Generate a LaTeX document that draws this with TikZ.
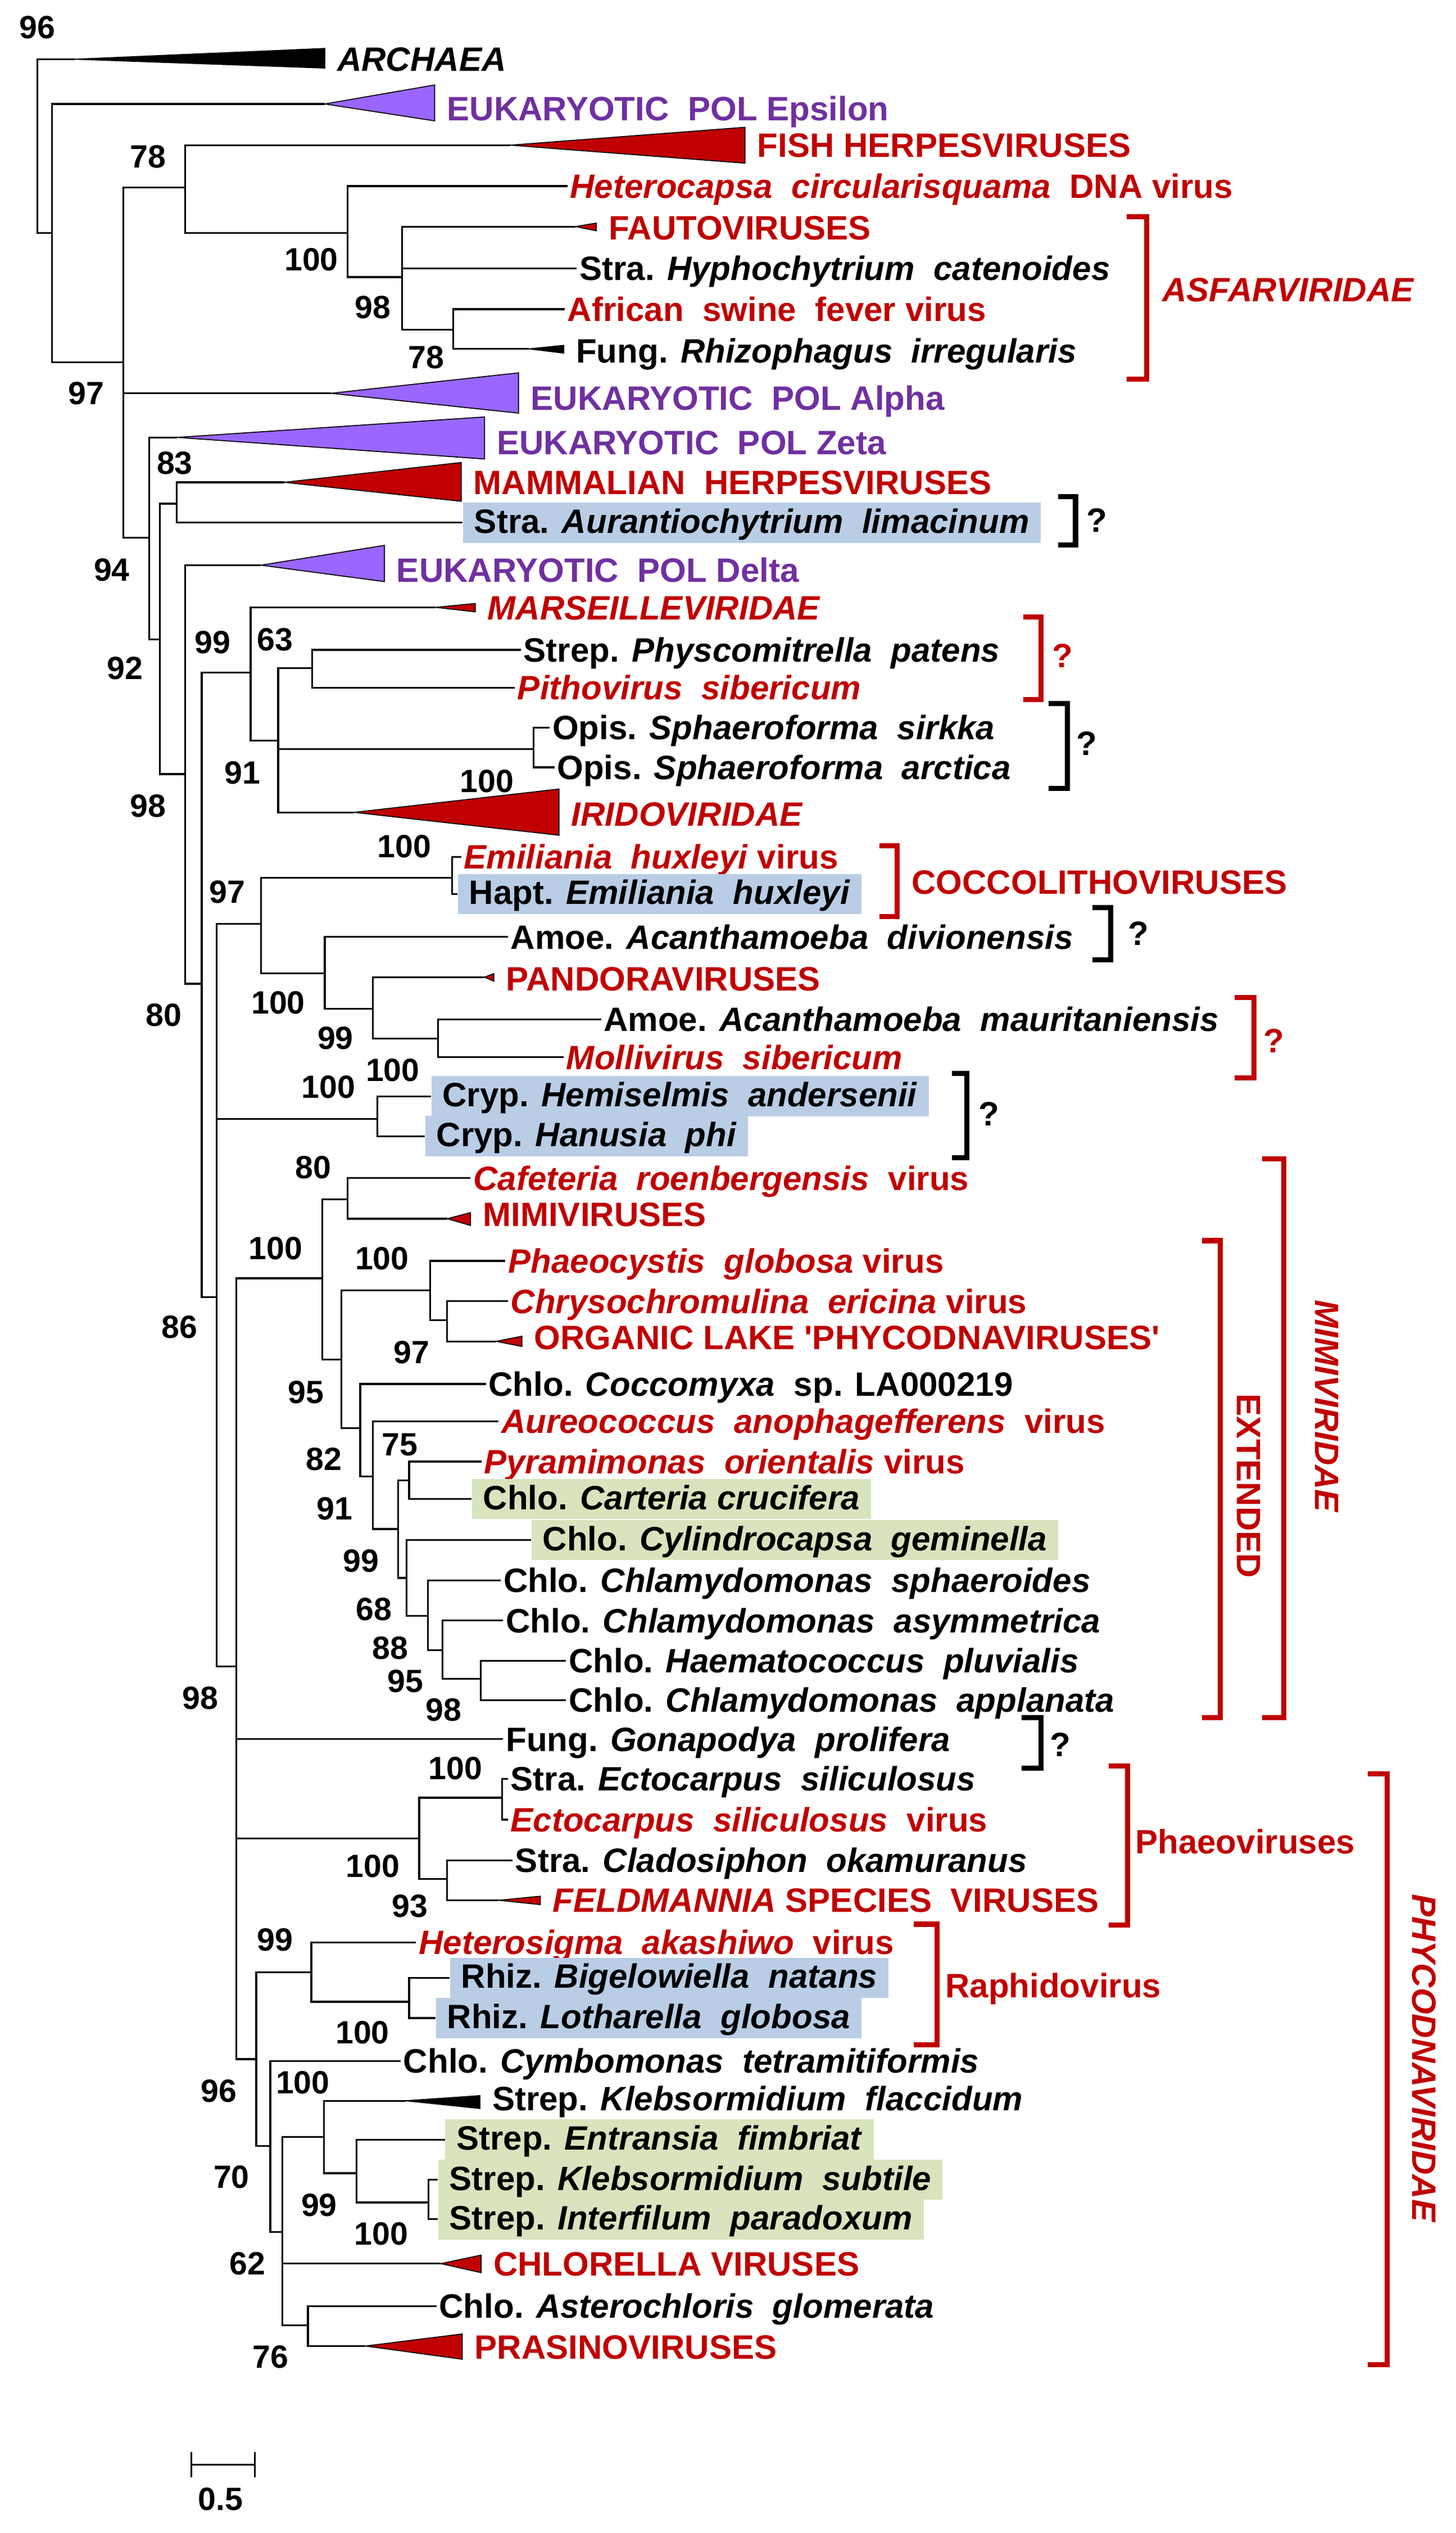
\documentclass[tikz,border=0pt]{standalone}
\usepackage{fontspec}
\setmainfont{Liberation Sans}
\usepackage{tikz}
\usetikzlibrary{positioning}
\definecolor{virred}{HTML}{C00000}
\definecolor{polpurple}{HTML}{7030A0}
\definecolor{polfill}{HTML}{9966FF}
\definecolor{hlblue}{HTML}{B9CDE5}
\definecolor{hlgreen}{HTML}{D7E4BD}
\newcommand{\labfont}{\fontsize{21}{24}\selectfont\bfseries}
\newcommand{\bsfont}{\fontsize{20}{24}\selectfont\bfseries}
\tikzset{
  tree/.style={line width=1.1pt},
  tip/.style={anchor=west, inner xsep=1.5pt, inner ysep=0pt, text height=15pt, text depth=0pt, font=\labfont},
  hlbox/.style={anchor=west, inner xsep=7pt, inner ysep=0pt, text height=19pt, text depth=6pt, font=\labfont},
  bluebox/.style={hlbox, fill=hlblue},
  greenbox/.style={hlbox, fill=hlgreen},
  vir/.style={text=virred},
  pol/.style={text=polpurple},
  clade/.style={draw=black, line width=0.6pt, line join=miter},
  cladeR/.style={clade, fill=virred},
  cladeP/.style={clade, fill=polfill},
  cladeK/.style={clade, fill=black},
  brk/.style={line width=3.2pt, line join=miter},
  brkR/.style={brk, draw=virred},
  cladelab/.style={inner sep=0pt, text height=15pt, text depth=0pt, font=\labfont},
  bs/.style={inner sep=0pt, text height=14.5pt, text depth=0pt, font=\bsfont}
}
\begin{document}
\begin{tikzpicture}[x=1pt,y=-1pt]
  \useasboundingbox (0,0) rectangle (905,1574);
  %internal nodes of the tree
  \coordinate (r0) at (23.2,90);
  \coordinate (n1) at (32.4,144.8);
  \coordinate (n2) at (76.7,225);
  \coordinate (n3) at (115.0,116.5);
  \coordinate (n4) at (92.7,334.2);
  \coordinate (n5) at (216.0,144.8);
  \coordinate (n6) at (249.9,172.2);
  \coordinate (n7) at (281.8,205.0);
  \coordinate (n8) at (99.3,397.2);
  \coordinate (n9) at (110.0,313);
  \coordinate (n10) at (115.0,481);
  \coordinate (n11) at (125.4,611.3);
  \coordinate (n12) at (155.8,418);
  \coordinate (n13) at (134.7,806);
  \coordinate (n14) at (172.9,460.2);
  \coordinate (n15) at (194.0,415.1);
  \coordinate (n16) at (331.6,465.6);
  \coordinate (n17) at (162.2,574.1);
  \coordinate (n18) at (234.6,695.3);
  \coordinate (n19) at (146.8,1035.6);
  \coordinate (n20) at (280.9,545.4);
  \coordinate (n21) at (201.9,604.7);
  \coordinate (n22) at (231.7,626.8);
  \coordinate (n23) at (272.2,645.2);
  \coordinate (n24) at (200.4,794.3);
  \coordinate (n25) at (260.6,1142.5);
  \coordinate (n26) at (159.3,1279.5);
  \coordinate (n27) at (216,745.3);
  \coordinate (n28) at (212.3,844.8);
  \coordinate (n29) at (267.3,801.9);
  \coordinate (n30) at (223.9,887.4);
  \coordinate (n31) at (278,820.3);
  \coordinate (n32) at (231.7,917.5);
  \coordinate (n33) at (247.6,950.1);
  \coordinate (n34) at (254.3,920);
  \coordinate (n35) at (252.8,980.5);
  \coordinate (n36) at (265.9,1004);
  \coordinate (n37) at (275.1,1025.3);
  \coordinate (n38) at (298.9,1043.2);
  \coordinate (n39) at (312.2,1117.1);
  \coordinate (n40) at (278,1167.7);
  \coordinate (n41) at (193.5,1225.4);
  \coordinate (n42) at (168,1333.4);
  \coordinate (n43) at (254.3,1243.9);
  \coordinate (n44) at (175.6,1387);
  \coordinate (n45) at (201.4,1327.8);
  \coordinate (n46) at (191.4,1444.9);
  \coordinate (n47) at (221.5,1350.4);
  \coordinate (n48) at (266.4,1368.6);

  %collapsed clades: apex and label point
  \coordinate (archaeaA) at (46.3,36.8);  \coordinate (archaeaE) at (201.9,36.8);
  \coordinate (epsA) at (201.9,64.6);     \coordinate (epsE) at (270.2,67.6);
  \coordinate (fishA) at (317.1,90.2);    \coordinate (fishE) at (463.1,90.2);
  \coordinate (fautoA) at (357.7,140.8);  \coordinate (fautoE) at (370.7,141.6);
  \coordinate (rhizoA) at (328.7,216.8);  \coordinate (rhizoE) at (350.4,218.0);
  \coordinate (alphaA) at (205.6,244.4);  \coordinate (alphaE) at (322.3,247.2);
  \coordinate (zetaA) at (110.0,271.8);   \coordinate (zetaE) at (301.2,275.0);
  \coordinate (mammA) at (176.7,299.7);   \coordinate (mammE) at (286.7,299.7);
  \coordinate (deltaA) at (162.2,351.2);  \coordinate (deltaE) at (238.9,354.3);
  \coordinate (marseA) at (270.8,377.4);  \coordinate (marseE) at (295.4,377.6);
  \coordinate (iridoA) at (220.1,504.8);  \coordinate (iridoE) at (347.5,505.8);
  \coordinate (pandoraA) at (301.2,607.2); \coordinate (pandoraE) at (307,608.2);
  \coordinate (mimiA) at (278,757.3);     \coordinate (mimiE) at (292.5,754.6);
  \coordinate (orglakeA) at (308.4,833.5); \coordinate (orglakeE) at (324.4,831.0);
  \coordinate (feldA) at (309.9,1180.8);  \coordinate (feldE) at (335.9,1180.8);
  \coordinate (flaccA) at (252.2,1305.4); \coordinate (flaccE) at (298.3,1304.0);
  \coordinate (chlorA) at (274,1406.6);   \coordinate (chlorE) at (299,1406.6);
  \coordinate (prasiA) at (227.2,1457.8); \coordinate (prasiE) at (287.3,1458.2);

  \draw[cladeK] (archaeaA) -- (201.9,30.1) -- (201.9,42.3) -- cycle;
  \draw[cladeP] (epsA) -- (270.2,52.8) -- (270.2,75.1) -- cycle;
  \draw[cladeR] (fishA) -- (463.1,79.1) -- (463.1,101.4) -- cycle;
  \draw[cladeR] (fautoA) -- (370.7,138.6) -- (370.7,143.4) -- cycle;
  \draw[cladeK] (rhizoA) -- (350.4,214.6) -- (350.4,219.4) -- cycle;
  \draw[cladeP] (alphaA) -- (322.3,231.7) -- (322.3,256.7) -- cycle;
  \draw[cladeP] (zetaA) -- (301.2,259.1) -- (301.2,285.2) -- cycle;
  \draw[cladeR] (mammA) -- (286.7,287.4) -- (286.7,311.5) -- cycle;
  \draw[cladeP] (deltaA) -- (238.9,338.9) -- (238.9,361.4) -- cycle;
  \draw[cladeR] (marseA) -- (295.4,375.0) -- (295.4,380.2) -- cycle;
  \draw[cladeR] (iridoA) -- (347.5,490.3) -- (347.5,519.0) -- cycle;
  \draw[cladeR] (pandoraA) -- (307,605.0) -- (307,609.7) -- cycle;
  \draw[cladeR] (mimiA) -- (292.5,753.5) -- (292.5,761.5) -- cycle;
  \draw[cladeR] (orglakeA) -- (324.4,830.3) -- (324.4,836.7) -- cycle;
  \draw[cladeR] (feldA) -- (335.9,1178.3) -- (335.9,1183.5) -- cycle;
  \draw[cladeK] (flaccA) -- (298.3,1302.2) -- (298.3,1310.2) -- cycle;
  \draw[cladeR] (chlorA) -- (299,1401.3) -- (299,1412.2) -- cycle;
  \draw[cladeR] (prasiA) -- (287.3,1450.3) -- (287.3,1466.0) -- cycle;

  %tip labels
  \node (archaea) [tip, right=6pt of archaeaE] {\textit{ARCHAEA}};
  \node (eps) [tip, pol, right=6pt of epsE] {EUKARYOTIC~~POL Epsilon};
  \node (fish) [tip, vir, right=6pt of fishE] {FISH HERPESVIRUSES};
  \node (hetcap) [tip, vir] at (352.7,115.6) {\textit{Heterocapsa~~circularisquama}~~DNA virus};
  \node (fauto) [tip, vir, right=6pt of fautoE] {FAUTOVIRUSES};
  \node (hypho) [tip] at (358.5,166.7) {Stra. \textit{Hyphochytrium~~catenoides}};
  \node (asfv) [tip, vir] at (351,192.1) {African~~swine~~fever virus};
  \node (rhizo) [tip, right=6pt of rhizoE] {Fung. \textit{Rhizophagus~~irregularis}};
  \node (alpha) [tip, pol, right=6pt of alphaE] {EUKARYOTIC~~POL Alpha};
  \node (zeta) [tip, pol, right=6pt of zetaE] {EUKARYOTIC~~POL Zeta};
  \node (mamm) [tip, vir, right=6pt of mammE] {MAMMALIAN~~HERPESVIRUSES};
  \node (auran) [bluebox] at (287.6,324.8) {Stra. \textit{Aurantiochytrium~~limacinum}};
  \node (delta) [tip, pol, right=6pt of deltaE] {EUKARYOTIC~~POL Delta};
  \node (marse) [tip, vir, right=6pt of marseE] {\textit{MARSEILLEVIRIDAE}};
  \node (physco) [tip] at (323.8,403.8) {Strep. \textit{Physcomitrella~~patens}};
  \node (pitho) [tip, vir] at (320,427.3) {\textit{Pithovirus~~sibericum}};
  \node (sirkka) [tip] at (341.7,452.1) {Opis. \textit{Sphaeroforma~~sirkka}};
  \node (arctica) [tip] at (344.6,476.8) {Opis. \textit{Sphaeroforma~~arctica}};
  \node (irido) [tip, vir, right=6pt of iridoE] {\textit{IRIDOVIRIDAE}};
  \node (ehv) [tip, vir] at (286.7,532.4) {\textit{Emiliania~~huxleyi} virus};
  \node (ehux) [bluebox] at (284.4,555.5) {Hapt. \textit{Emiliania~~huxleyi}};
  \node (divio) [tip] at (315.7,582.2) {Amoe. \textit{Acanthamoeba~~divionensis}};
  \node (pandora) [tip, vir, right=6pt of pandoraE] {PANDORAVIRUSES};
  \node (mauri) [tip] at (373.6,633.4) {Amoe. \textit{Acanthamoeba~~mauritaniensis}};
  \node (molli) [tip, vir] at (350.4,656.9) {\textit{Mollivirus~~sibericum}};
  \node (hemis) [bluebox] at (267.9,681.2) {Cryp. \textit{Hemiselmis~~andersenii}};
  \node (hanus) [bluebox] at (264.1,706.0) {Cryp. \textit{Hanusia~~phi}};
  \node (cafe) [tip, vir] at (292.5,732.1) {\textit{Cafeteria~~roenbergensis}~~virus};
  \node (mimi) [tip, vir, right=6pt of mimiE] {MIMIVIRUSES};
  \node (phaeo) [tip, vir] at (314.2,783.5) {\textit{Phaeocystis~~globosa} virus};
  \node (chryso) [tip, vir] at (315.7,808.5) {\textit{Chrysochromulina~~ericina} virus};
  \node (orglake) [tip, vir, right=6pt of orglakeE] {ORGANIC LAKE \textquotesingle PHYCODNAVIRUSES\textquotesingle};
  \node (cocco) [tip] at (302,860) {Chlo. \textit{Coccomyxa}~~sp. LA000219};
  \node (aureo) [tip, vir] at (309.9,883.2) {\textit{Aureococcus~~anophagefferens}~~virus};
  \node (pyram) [tip, vir] at (299.2,908.2) {\textit{Pyramimonas~~orientalis} virus};
  \node (carte) [greenbox] at (293.1,931.5) {Chlo. \textit{Carteria crucifera}};
  \node (cylin) [greenbox] at (330.1,957.0) {Chlo. \textit{Cylindrocapsa~~geminella}};
  \node (sphae) [tip] at (311.3,982) {Chlo. \textit{Chlamydomonas~~sphaeroides}};
  \node (asymm) [tip] at (312.8,1007) {Chlo. \textit{Chlamydomonas~~asymmetrica}};
  \node (haema) [tip] at (351.9,1032) {Chlo. \textit{Haematococcus~~pluvialis}};
  \node (appla) [tip] at (351.9,1056.4) {Chlo. \textit{Chlamydomonas~~applanata}};
  \node (gonap) [tip] at (312.8,1080.6) {Fung. \textit{Gonapodya~~prolifera}};
  \node (ectoS) [tip] at (315.7,1105.3) {Stra. \textit{Ectocarpus~~siliculosus}};
  \node (esv) [tip, vir] at (315.7,1130.7) {\textit{Ectocarpus~~siliculosus}~~virus};
  \node (clado) [tip] at (318.6,1155.9) {Stra. \textit{Cladosiphon~~okamuranus}};
  \node (feld) [tip, vir, right=6pt of feldE] {\textit{FELDMANNIA} SPECIES~~VIRUSES};
  \node (hetsig) [tip, vir] at (258.6,1206.9) {\textit{Heterosigma~~akashiwo}~~virus};
  \node (bigel) [bluebox] at (279.5,1229.0) {Rhiz. \textit{Bigelowiella~~natans}};
  \node (lothar) [bluebox] at (270.8,1254.0) {Rhiz. \textit{Lotharella~~globosa}};
  \node (cymbo) [tip] at (249.1,1280.6) {Chlo. \textit{Cymbomonas~~tetramitiformis}};
  \node (flacc) [tip, right=6pt of flaccE] {Strep. \textit{Klebsormidium~~flaccidum}};
  \node (entra) [greenbox] at (276.5,1329.5) {Strep. \textit{Entransia~~fimbriat}};
  \node (subti) [greenbox] at (272.2,1354.5) {Strep. \textit{Klebsormidium~~subtile}};
  \node (inter) [greenbox] at (272.2,1379.0) {Strep. \textit{Interfilum~~paradoxum}};
  \node (chlor) [tip, vir, right=6pt of chlorE] {CHLORELLA VIRUSES};
  \node (aster) [tip] at (271.3,1433) {Chlo. \textit{Asterochloris~~glomerata}};
  \node (prasi) [tip, vir, right=6pt of prasiE] {PRASINOVIRUSES};

  %branches, parent to child
  \draw[tree] (r0) |- (archaeaA) (r0) |- (n1);
  \draw[tree] (n1) |- (epsA) (n1) |- (n2);
  \draw[tree] (n2) |- (n3) (n2) |- (alphaA) (n2) |- (n4);
  \draw[tree] (n3) |- (fishA) (n3) |- (n5);
  \draw[tree] (n5) |- (hetcap.west) (n5) |- (n6);
  \draw[tree] (n6) |- (fautoA) (n6) |- (hypho.west) (n6) |- (n7);
  \draw[tree] (n7) |- (asfv.west) (n7) |- (rhizoA);
  \draw[tree] (n4) |- (zetaA) (n4) |- (n8);
  \draw[tree] (n8) |- (n9) (n8) |- (n10);
  \draw[tree] (n9) |- (mammA) (n9) |- (auran.west);
  \draw[tree] (n10) |- (deltaA) (n10) |- (n11);
  \draw[tree] (n11) |- (n12) (n11) |- (n13);
  \draw[tree] (n12) |- (marseA) (n12) |- (n14);
  \draw[tree] (n14) |- (n15) (n14) |- (n16) (n14) |- (iridoA);
  \draw[tree] (n15) |- (physco.west) (n15) |- (pitho.west);
  \draw[tree] (n16) |- (sirkka.west) (n16) |- (arctica.west);
  \draw[tree] (n13) |- (n17) (n13) |- (n18) (n13) |- (n19);
  \draw[tree] (n17) |- (n20) (n17) |- (n21);
  \draw[tree] (n20) |- (ehv.west) (n20) |- (ehux.west);
  \draw[tree] (n21) |- (divio.west) (n21) |- (n22);
  \draw[tree] (n22) |- (pandoraA) (n22) |- (n23);
  \draw[tree] (n23) |- (mauri.west) (n23) |- (molli.west);
  \draw[tree] (n18) |- (hemis.west) (n18) |- (hanus.west);
  \draw[tree] (n19) |- (n24) (n19) |- (gonap.west) (n19) |- (n25) (n19) |- (n26);
  \draw[tree] (n24) |- (n27) (n24) |- (n28);
  \draw[tree] (n27) |- (cafe.west) (n27) |- (mimiA);
  \draw[tree] (n28) |- (n29) (n28) |- (n30);
  \draw[tree] (n29) |- (phaeo.west) (n29) |- (n31);
  \draw[tree] (n31) |- (chryso.west) (n31) |- (orglakeA);
  \draw[tree] (n30) |- (cocco.west) (n30) |- (n32);
  \draw[tree] (n32) |- (aureo.west) (n32) |- (n33);
  \draw[tree] (n33) |- (n34) (n33) |- (n35);
  \draw[tree] (n34) |- (pyram.west) (n34) |- (carte.west);
  \draw[tree] (n35) |- (cylin.west) (n35) |- (n36);
  \draw[tree] (n36) |- (sphae.west) (n36) |- (n37);
  \draw[tree] (n37) |- (asymm.west) (n37) |- (n38);
  \draw[tree] (n38) |- (haema.west) (n38) |- (appla.west);
  \draw[tree] (n25) |- (n39) (n25) |- (n40);
  \draw[tree] (n39) |- (ectoS.west) (n39) |- (esv.west);
  \draw[tree] (n40) |- (clado.west) (n40) |- (feldA);
  \draw[tree] (n26) |- (n41) (n26) |- (n42);
  \draw[tree] (n41) |- (hetsig.west) (n41) |- (n43);
  \draw[tree] (n43) |- (bigel.west) (n43) |- (lothar.west);
  \draw[tree] (n42) |- (cymbo.west) (n42) |- (n44);
  \draw[tree] (n44) |- (n45) (n44) |- (chlorA) (n44) |- (n46);
  \draw[tree] (n45) |- (flaccA) (n45) |- (n47);
  \draw[tree] (n47) |- (entra.west) (n47) |- (n48);
  \draw[tree] (n48) |- (subti.west) (n48) |- (inter.west);
  \draw[tree] (n46) |- (aster.west) (n46) |- (prasiA);

  %bootstrap values
  \node (b1) [bs] at (23.2,16.7) {96};
  \node (b2) [bs] at (92,97) {78};
  \node (b3) [bs] at (193.5,160.9) {100};
  \node (b4) [bs] at (231.7,190.5) {98};
  \node (b5) [bs] at (265,221.7) {78};
  \node (b6) [bs] at (53.6,244) {97};
  \node (b7) [bs] at (108.6,287.4) {83};
  \node (b8) [bs] at (69.5,353.6) {94};
  \node (b9) [bs] at (77.6,414.9) {92};
  \node (b10) [bs] at (92.1,500.6) {98};
  \node (b11) [bs] at (132.3,398.9) {99};
  \node (b12) [bs] at (170.9,397.2) {63};
  \node (b13) [bs] at (150.6,479.8) {91};
  \node (b14) [bs] at (302.6,485.2) {100};
  \node (b15) [bs] at (251.4,525.6) {100};
  \node (b16) [bs] at (141.3,554) {97};
  \node (b17) [bs] at (172.9,622.6) {100};
  \node (b18) [bs] at (208.5,644.6) {99};
  \node (b19) [bs] at (244.1,664.7) {100};
  \node (b20) [bs] at (204.2,675) {100};
  \node (b21) [bs] at (101.9,630.5) {80};
  \node (b22) [bs] at (194.6,725.2) {80};
  \node (b23) [bs] at (171.4,775.4) {100};
  \node (b24) [bs] at (237.5,781.5) {100};
  \node (b25) [bs] at (255.7,839.9) {97};
  \node (b26) [bs] at (190.3,864.9) {95};
  \node (b27) [bs] at (111.5,824.4) {86};
  \node (b28) [bs] at (201.3,906.5) {82};
  \node (b29) [bs] at (248.5,897.2) {75};
  \node (b30) [bs] at (207.9,937.1) {91};
  \node (b31) [bs] at (224.4,969.7) {99};
  \node (b32) [bs] at (232.5,999.6) {68};
  \node (b33) [bs] at (242.7,1023.6) {88};
  \node (b34) [bs] at (252,1044.2) {95};
  \node (b35) [bs] at (275.7,1062.1) {98};
  \node (b36) [bs] at (124.5,1054.7) {98};
  \node (b37) [bs] at (283.2,1098.6) {100};
  \node (b38) [bs] at (231.7,1159.2) {100};
  \node (b39) [bs] at (254.8,1184.2) {93};
  \node (b40) [bs] at (170.9,1204.9) {99};
  \node (b41) [bs] at (225.3,1262.8) {100};
  \node (b42) [bs] at (136.1,1299.1) {96};
  \node (b43) [bs] at (188.2,1293.6) {100};
  \node (b44) [bs] at (143.9,1352.6) {70};
  \node (b45) [bs] at (198.4,1369.8) {99};
  \node (b46) [bs] at (236.9,1387.6) {100};
  \node (b47) [bs] at (153.7,1406.3) {62};
  \node (b48) [bs] at (168.1,1464.3) {76};

  %brackets with their labels
  \draw[brkR] (700.5,134.8) -- (712.9,134.8) -- (712.9,235.7) -- (700.5,235.7);
  \node (asfar) [cladelab, vir, anchor=west] at (722.2,180) {\textit{ASFARVIRIDAE}};
  \draw[brk] (657.7,308.6) -- (668.6,308.6) -- (668.6,338.7) -- (657.7,338.7);
  \node (q1) [cladelab] at (681.9,323) {?};
  \draw[brkR] (636.1,383.3) -- (647.2,383.3) -- (647.2,434.7) -- (636.1,434.7);
  \node (q2) [cladelab, vir] at (660.6,407.3) {?};
  \draw[brk] (651.7,437.2) -- (663.6,437.2) -- (663.6,489.8) -- (651.7,489.8);
  \node (q3) [cladelab] at (675.6,461.7) {?};
  \draw[brkR] (546.5,525.4) -- (557.6,525.4) -- (557.6,569.5) -- (546.5,569.5);
  \node (coccoL) [cladelab, vir, anchor=west] at (566.5,547.9) {COCCOLITHOVIRUSES};
  \draw[brk] (679.1,564.1) -- (690.5,564.1) -- (690.5,596.4) -- (679.1,596.4);
  \node (q4) [cladelab] at (707.8,579.7) {?};
  \draw[brkR] (767.6,619.7) -- (779.5,619.7) -- (779.5,669.9) -- (767.6,669.9);
  \node (q5) [cladelab, vir] at (792,646.6) {?};
  \draw[brk] (591.9,667) -- (600.9,667) -- (600.9,719.4) -- (591.9,719.4);
  \node (q6) [cladelab] at (614.9,692) {?};
  \draw[brkR] (784.6,720.2) -- (798,720.2) -- (798,1067.3) -- (784.6,1067.3);
  \node (mimiL) [cladelab, vir, rotate=-90] at (825,874) {\textit{MIMIVIRIDAE}};
  \draw[brkR] (747.2,770.9) -- (758.6,770.9) -- (758.6,1067.3) -- (747.2,1067.3);
  \node (extL) [cladelab, vir, rotate=-90] at (776.4,923.4) {EXTENDED};
  \draw[brk] (635.2,1067.3) -- (647.2,1067.3) -- (647.2,1098.7) -- (635.2,1098.7);
  \node (q7) [cladelab] at (659.1,1084) {?};
  \draw[brkR] (689.1,1097.4) -- (701,1097.4) -- (701,1196.3) -- (689.1,1196.3);
  \node (phaeoL) [cladelab, vir, anchor=west] at (705.5,1144.2) {Phaeoviruses};
  \draw[brkR] (568,1195.7) -- (582.4,1195.7) -- (582.4,1270.6) -- (568,1270.6);
  \node (raphL) [cladelab, vir, anchor=west] at (587.4,1233.7) {Raphidovirus};
  \draw[brkR] (850.3,1102.2) -- (862.3,1102.2) -- (862.3,1469.5) -- (850.3,1469.5);
  \node (phycoL) [cladelab, vir, rotate=-90] at (885.4,1279) {\textit{PHYCODNAVIRIDAE}};

  %scale bar
  \coordinate (sb0) at (118.9,1531.6);
  \coordinate (sb1) at (158.4,1531.6);
  \draw[tree] (sb0) -- (sb1);
  \draw[tree] ([yshift=7.8pt]sb0) -- ([yshift=-7.8pt]sb0);
  \draw[tree] ([yshift=7.8pt]sb1) -- ([yshift=-7.8pt]sb1);
  \node (sbl) [bs] at (137,1552.6) {0.5};
\end{tikzpicture}
\end{document}
